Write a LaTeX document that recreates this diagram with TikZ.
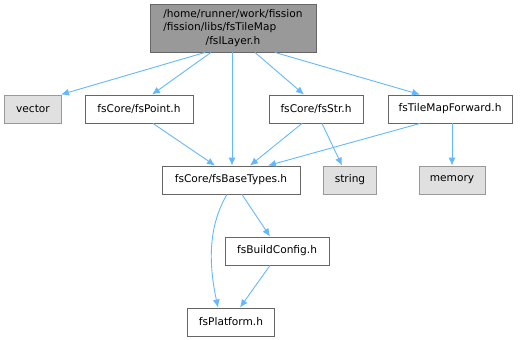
\documentclass[tikz,border=0pt]{standalone}
\usepackage{fontspec}
\setmainfont{DejaVu Sans}
\usetikzlibrary{arrows.meta, positioning}
\definecolor{edgeblue}{RGB}{99,184,255}
\definecolor{rootgray}{RGB}{153,153,153}
\definecolor{sysgray}{RGB}{224,224,224}
\definecolor{bordergray}{RGB}{102,102,102}

\tikzset{
  file/.style={draw=bordergray, fill=white, line width=0.9pt, minimum height=28pt,
    inner sep=2pt, font=\fontsize{10.6}{12}\selectfont},
  sysfile/.style={file, draw=rootgray, fill=sysgray},
  rootfile/.style={file, fill=rootgray, minimum height=48pt,
    font=\fontsize{10.6}{13.5}\selectfont},
  dep/.style={draw=edgeblue, line width=0.9pt, -{Latex[length=8pt,width=7pt]}}
}

\begin{document}
\begin{tikzpicture}[x=1pt, y=-1pt]
    \useasboundingbox (0,0) rectangle (523,340);

    % top file
    \node[rootfile, minimum width=166pt] (layer) at (233,28)
      {\begin{tabular}{@{}l@{}}/home/runner/work/fission\\/fission/libs/fsTileMap\\
       \multicolumn{1}{@{}c@{}}{/fsILayer.h}\end{tabular}};

    % second row
    \node[sysfile, minimum width=57pt] (vector) at (33,109) {vector};
    \node[file, minimum width=108pt] (point) at (139,109) {fsCore/fsPoint.h};
    \node[file, minimum width=94pt] (str) at (316,109) {fsCore/fsStr.h};
    \node[file, minimum width=124pt] (fwd) at (450,109) {fsTileMapForward.h};

    % third row
    \node[file, minimum width=138pt] (base) at (231,180) {fsCore/fsBaseTypes.h};
    \node[sysfile, minimum width=53pt] (string) at (350,180) {string};
    \node[sysfile, minimum width=66pt] (memory) at (452,180) {memory};

    % bottom
    \node[file, minimum width=104pt] (build) at (277,251) {fsBuildConfig.h};
    \node[file, minimum width=87pt] (platform) at (231,322) {fsPlatform.h};

    % edges from fsILayer.h
    \draw[dep] ([xshift=-28pt]layer.south) -- ([xshift=28pt]vector.north);
    \draw[dep] ([xshift=-22pt]layer.south) -- ([xshift=13pt]point.north);
    \draw[dep] ([xshift=-1pt]layer.south) -- ([xshift=1pt]base.north);
    \draw[dep] ([xshift=22pt]layer.south) -- ([xshift=-12pt]str.north);
    \draw[dep] ([xshift=42pt]layer.south) -- ([xshift=-30pt]fwd.north);

    % second row edges
    \draw[dep] ([xshift=14pt]point.south) -- ([xshift=-16pt]base.north);
    \draw[dep] ([xshift=-14pt]str.south) -- ([xshift=19pt]base.north);
    \draw[dep] ([xshift=6pt]str.south) -- ([xshift=-8pt]string.north);
    \draw[dep] ([xshift=-30pt]fwd.south) -- ([xshift=37pt]base.north);
    \draw[dep] ([xshift=2pt]fwd.south) -- (memory.north);

    % lower edges
    \draw[dep] ([xshift=11pt]base.south) -- ([xshift=-7pt]build.north);
    \draw[dep] ([xshift=-4pt]base.south) .. controls (206,230) and (210,270) .. ([xshift=-13pt]platform.north);
    \draw[dep] ([xshift=-7pt]build.south) -- ([xshift=9pt]platform.north);
\end{tikzpicture}
\end{document}
